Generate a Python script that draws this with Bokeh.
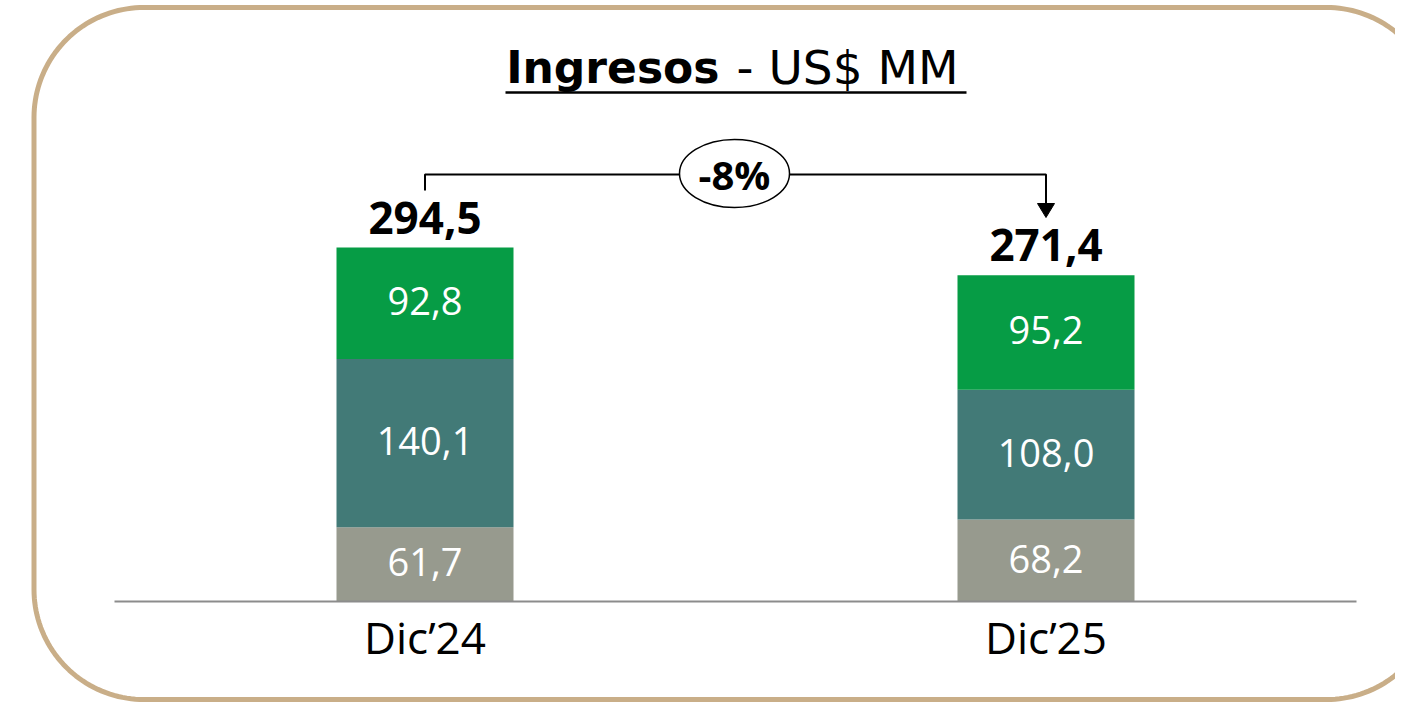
import math
from bokeh.plotting import figure
from bokeh.models import Range1d, ColumnDataSource
from bokeh.core.properties import value
from bokeh.embed import file_html
from bokeh.resources import INLINE

# ---------------- data ----------------
categories = ["Dic’24", "Dic’25"]
segment_names = ["base", "medio", "superior"]
seg_bottom = [61.7, 68.2]
seg_middle = [140.1, 108.0]
seg_top = [92.8, 95.2]
totals = [294.5, 271.4]
title_bold = "Ingresos"
title_rest = "- US$ MM"

# ---------------- styles ----------------
colors = ["#979A8E", "#427A77", "#069C45"]
BORDER_COLOR = "#C9AE88"
FONT = "Open Sans"
TITLE_FONT = "DejaVu Sans"

W, H = 1395, 702
X0_PX, UNIT_PX, BASE_PX, PXU = 424.5, 621.0, 601.0, 1.202


def dx(px):
    return (px - X0_PX) / UNIT_PX


def dy(py):
    return (BASE_PX - py) / PXU


def fmt(v):
    return f"{v:.1f}".replace(".", ",")


p = figure(width=W, height=H,
           x_range=Range1d(dx(0), dx(W)),
           y_range=Range1d(dy(H), dy(0)),
           output_backend="svg", toolbar_location=None,
           x_axis_type=None, y_axis_type=None,
           min_border=0, outline_line_color=None,
           background_fill_color="white", border_fill_color="white")
p.grid.visible = False

# ---------------- rounded frame ----------------
L, T, R, B, RAD = 33.5, 7.0, 1436.0, 699.0, 110.0
pts = []
def arc(cx, cy, a0, a1, n=40):
    for i in range(n + 1):
        a = math.radians(a0 + (a1 - a0) * i / n)
        pts.append((cx + RAD * math.cos(a), cy + RAD * math.sin(a)))
arc(L + RAD, T + RAD, 180, 270)
arc(R - RAD, T + RAD, 270, 360)
arc(R - RAD, B - RAD, 0, 90)
arc(L + RAD, B - RAD, 90, 180)
pts.append(pts[0])
p.line([dx(a) for a, _ in pts], [dy(b) for _, b in pts],
       line_color=BORDER_COLOR, line_width=5, line_join="round")

# ---------------- bars ----------------
xs = list(range(len(categories)))
src = ColumnDataSource(dict(x=xs, base=seg_bottom, medio=seg_middle, superior=seg_top))
p.vbar_stack(segment_names, x="x", width=177 / UNIT_PX, color=colors,
             line_color=None, source=src)

# baseline (axis line)
p.segment(x0=[-0.5], x1=[1.5], y0=[0], y1=[0], line_color="#8C8C8C", line_width=2)

# segment labels
lx, ly, lt = [], [], []
for i in xs:
    b = 0.0
    for v in (seg_bottom[i], seg_middle[i], seg_top[i]):
        lx.append(i)
        ly.append(b + v / 2 + 2 / PXU)
        lt.append(fmt(v))
        b += v
p.text(x=lx, y=ly, text=lt, text_align="center", text_baseline="middle",
       text_color="white", text_font=value(FONT), text_font_size="38px")

# totals
p.text(x=xs, y=[t + 30 / PXU for t in totals], text=[fmt(t) for t in totals],
       text_align="center", text_baseline="middle", text_color="black",
       text_font=value(FONT), text_font_style="bold", text_font_size="44px")

# category labels
p.text(x=xs, y=[dy(636)] * len(xs), text=categories, text_align="center",
       text_baseline="middle", text_color="black",
       text_font=value(FONT), text_font_size="44px")

# ---------------- title ----------------
p.text(x=[dx(719)], y=[dy(67)], text=[title_bold], text_align="right",
       text_baseline="middle", text_color="black", text_font=value(TITLE_FONT),
       text_font_style="bold", text_font_size="44px")
p.text(x=[dx(736)], y=[dy(67)], text=[title_rest], text_align="left",
       text_baseline="middle", text_color="black", text_font=value(TITLE_FONT),
       text_font_size="47px")
p.segment(x0=[dx(505)], x1=[dx(966)], y0=[dy(92)], y1=[dy(92)],
          line_color="black", line_width=2.5)

# ---------------- change bracket ----------------
pct = round((totals[1] / totals[0] - 1) * 100)
yb = dy(174)
p.line([xs[0], xs[0], dx(680)], [dy(190), yb, yb], line_color="black", line_width=2)
p.line([dx(789), xs[1], xs[1]], [yb, yb, dy(205)], line_color="black", line_width=2)
p.patch([xs[1] - 8.5 / UNIT_PX, xs[1] + 8.5 / UNIT_PX, xs[1]],
        [dy(203), dy(203), dy(217)], fill_color="black", line_color="black")
p.ellipse(x=[dx(734)], y=[dy(173)], width=[110 / UNIT_PX], height=[68 / PXU],
          fill_color="white", line_color="black", line_width=1.5)
p.text(x=[dx(734)], y=[dy(173.5)], text=[f"{pct:d}%"], text_align="center",
       text_baseline="middle", text_color="black", text_font=value(FONT),
       text_font_style="bold", text_font_size="40px")

open("out.html", "w").write(file_html(p, INLINE))
